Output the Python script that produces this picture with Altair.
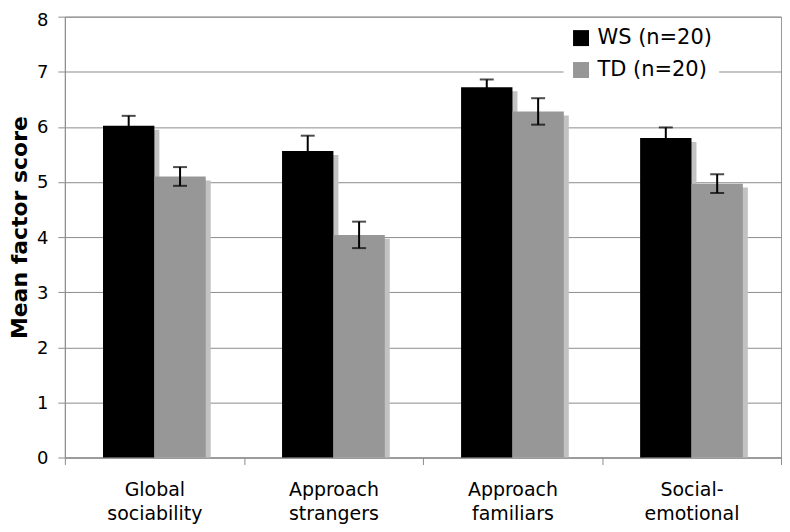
import altair as alt
import pandas as pd

categories = ["Global sociability", "Approach strangers", "Approach familiars", "Social-emotional"]
groups = ["WS (n=20)", "TD (n=20)"]
ws_means = [6.02, 5.56, 6.72, 5.80]
ws_errors = [0.18, 0.28, 0.14, 0.19]
td_means = [5.10, 4.04, 6.28, 4.97]
td_errors = [0.17, 0.24, 0.24, 0.17]
y_ticks = [0, 1, 2, 3, 4, 5, 6, 7, 8]

rows = []
for i, c in enumerate(categories):
    rows.append({"category": c, "group": groups[0], "mean": ws_means[i], "err": ws_errors[i]})
    rows.append({"category": c, "group": groups[1], "mean": td_means[i], "err": td_errors[i]})
df = pd.DataFrame(rows)
df["lo"] = df["mean"] - df["err"]
df["hi"] = df["mean"] + df["err"]

W, H = 718, 442
step = W / len(categories)
bar_w = 51.5
pad_outer = (step / bar_w - 2) / 2
FONT = "DejaVu Sans"
GRID = "#8c8c8c"

x_enc = alt.X(
    "category:N",
    sort=categories,
    title=None,
    scale=alt.Scale(domain=categories, paddingInner=0, paddingOuter=0),
)
off_enc = alt.XOffset(
    "group:N",
    sort=groups,
    scale=alt.Scale(domain=groups, paddingInner=0, paddingOuter=pad_outer),
)
shadow_off = alt.XOffset(
    "group:N",
    sort=groups,
    scale=alt.Scale(domain=groups, range=[5, step + 5], paddingInner=0, paddingOuter=pad_outer),
)
y_scale = alt.Scale(domain=[0, 8], nice=False, zero=True)
y_axis = alt.Axis(
    values=y_ticks,
    format="d",
    title="Mean factor score",
    labelOffset={"condition": {"test": "datum.value == 8", "value": 4}, "value": 1},
)


def yq(field):
    return alt.Y(field, type="quantitative", scale=y_scale, axis=y_axis)


base = alt.Chart(df)

shadow = base.mark_bar(color="#c2c2c2", yOffset=4, clip=True).encode(
    x=x_enc, xOffset=shadow_off, y=yq("mean")
)
bars = base.mark_bar().encode(
    x=x_enc,
    xOffset=off_enc,
    y=yq("mean"),
    color=alt.Color(
        "group:N",
        sort=groups,
        scale=alt.Scale(domain=groups, range=["#000000", "#979797"]),
        legend=alt.Legend(
            title=None,
            orient="none",
            legendX=500,
            legendY=4,
            fillColor="white",
            padding=7,
            symbolType="square",
            symbolSize=256,
            symbolStrokeWidth=0,
            labelFontSize=21,
            labelFont=FONT,
            labelColor="black",
            labelOffset=6,
            rowPadding=10,
        ),
    ),
)
rules = base.mark_rule(color="black", strokeWidth=2).encode(
    x=x_enc, xOffset=off_enc, y=yq("lo"), y2="hi:Q"
)
caps_hi = base.mark_tick(color="black", size=14, thickness=2).encode(
    x=x_enc, xOffset=off_enc, y=yq("hi")
)
caps_lo = base.mark_tick(color="black", size=14, thickness=2).encode(
    x=x_enc, xOffset=off_enc, y=yq("lo")
)

chart = (
    alt.layer(shadow, bars, rules, caps_hi, caps_lo)
    .resolve_scale(xOffset="independent")
    .properties(
        width=W,
        height=H,
        padding={"left": 57, "top": 8, "right": 1, "bottom": 72},
        autosize=alt.AutoSizeParams(type="none"),
        background="white",
    )
    .configure(font=FONT)
    .configure_view(stroke="#999999", strokeWidth=1)
    .configure_axisX(
        labelFont=FONT,
        labelFontSize=19,
        labelColor="black",
        labelAngle=0,
        labelLineHeight=24,
        labelPadding=16,
        labelExpr="split(replace(replace(datum.label, ' ', '|'), '-', '-|'), '|')",
        tickBand="extent",
        tickSize=7,
        tickColor=GRID,
        domainColor=GRID,
        grid=False,
    )
    .configure_axisY(
        labelFont=FONT,
        labelFontSize=18,
        labelColor="black",
        labelPadding=10,
        tickSize=7,
        tickColor=GRID,
        domainColor=GRID,
        gridColor=GRID,
        titleFont=FONT,
        titleFontSize=22,
        titleFontWeight="bold",
        titleColor="black",
        titleX=-38,
        titleY=211,
        titleAlign="center",
        titleBaseline="alphabetic",
        titleAngle=-90,
    )
)

chart.save("out.html", embed_options={"renderer": "svg", "actions": False})
